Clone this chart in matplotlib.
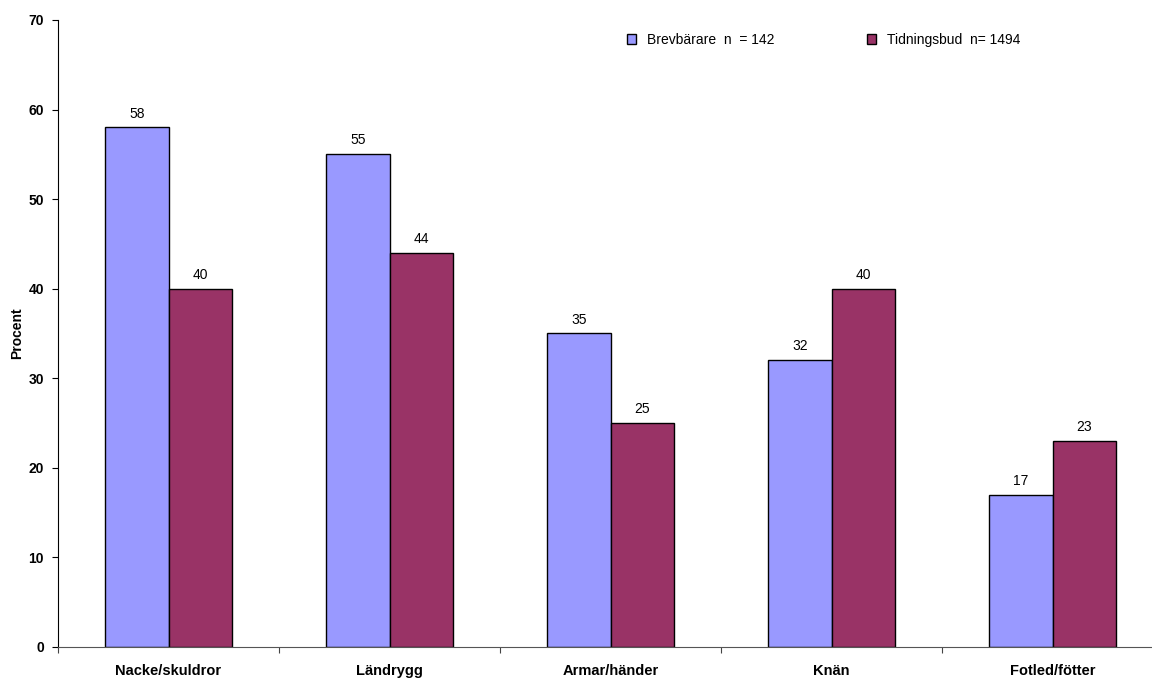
import numpy as np
import matplotlib
matplotlib.use("Agg")
import matplotlib.pyplot as plt

categories = ["Nacke/skuldror", "Ländrygg", "Armar/händer", "Knän", "Fotled/fötter"]
brevbarare = [58, 55, 35, 32, 17]
tidningsbud = [40, 44, 25, 40, 23]
series_names = ["Brevbärare  n  = 142", "Tidningsbud  n= 1494"]
yticks = [0, 10, 20, 30, 40, 50, 60, 70]

plt.rcParams["font.family"] = ["Liberation Sans", "DejaVu Sans"]

fig = plt.figure(figsize=(11.52, 6.79), dpi=100)
# plot area runs past the right edge, like the original
ax = fig.add_axes([58 / 1152, 32 / 679, 1105 / 1152, 627 / 679])

x = np.arange(len(categories))
w = 0.2875
b1 = ax.bar(x - w / 2, brevbarare, w, color="#9999FF", edgecolor="black", linewidth=1, label=series_names[0])
b2 = ax.bar(x + w / 2, tidningsbud, w, color="#993366", edgecolor="black", linewidth=1, label=series_names[1])

for bars, vals in ((b1, brevbarare), (b2, tidningsbud)):
    for rect, v in zip(bars, vals):
        ax.annotate(str(v), (rect.get_x() + rect.get_width() / 2, v),
                    xytext=(0, 5), textcoords="offset points",
                    ha="center", va="bottom", fontsize=10)

ax.set_xlim(-0.5, len(categories) - 0.5)
ax.set_ylim(0, 70)
ax.set_yticks(yticks)
ax.set_yticklabels([str(t) for t in yticks], fontsize=10, fontweight="bold")
ax.set_xticks(np.arange(len(categories) + 1) - 0.5)
ax.set_xticklabels([])
ax.set_xticks(x, minor=True)
ax.set_xticklabels(categories, minor=True, fontsize=10.5, fontweight="bold")
ax.tick_params(axis="x", which="minor", length=0, pad=12)
ax.tick_params(axis="x", which="major", length=4, direction="out", color="#444444")
ax.tick_params(axis="y", length=4, direction="out", pad=6)

ax.set_ylabel("Procent", fontsize=10, fontweight="bold", labelpad=3)

for s in ("top", "right"):
    ax.spines[s].set_visible(False)
ax.spines["bottom"].set_color("#555555")
ax.spines["left"].set_color("black")

ax.legend(loc="upper left", bbox_to_anchor=(621 / 1152, 1 - 27 / 679),
          bbox_transform=fig.transFigure, ncol=2, frameon=False,
          fontsize=10, handlelength=0.7, handleheight=0.7,
          columnspacing=6.6, handletextpad=0.8, borderaxespad=0)

fig.savefig("out.png", dpi=100)
